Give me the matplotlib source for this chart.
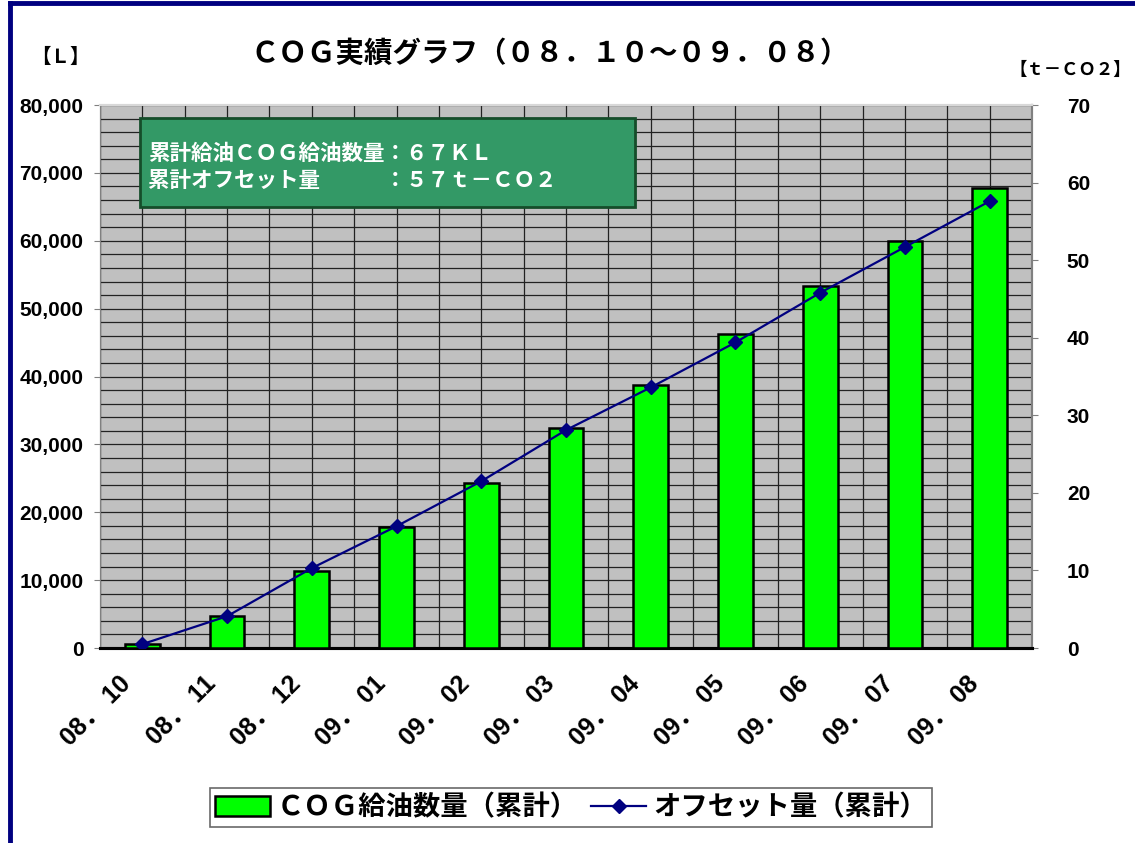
import numpy as np
import matplotlib.pyplot as plt
import matplotlib.transforms as mtrans
from matplotlib.patches import Rectangle
from matplotlib.lines import Line2D
from matplotlib.ticker import FuncFormatter

plt.rcParams['font.family'] = ['Noto Sans CJK JP', 'DejaVu Sans']

# データ
months = ['08． 10', '08． 11', '08． 12', '09． 01', '09． 02', '09． 03',
          '09． 04', '09． 05', '09． 06', '09． 07', '09． 08']
cog_litre = [600, 4700, 11300, 17900, 24300, 32400, 38700, 46200, 53300, 60000, 67800]
offset_t = [0.5, 4.1, 10.3, 15.7, 21.5, 28.1, 33.6, 39.4, 45.8, 51.7, 57.6]

lat = ['Liberation Sans', 'Noto Sans CJK JP']

fig = plt.figure(figsize=(11.35, 8.43), dpi=100)
ax = fig.add_axes([0.0881, 0.2313, 0.8212, 0.6441])
ax2 = ax.twinx()
ax.set_zorder(ax2.get_zorder() + 1)
ax.patch.set_visible(False)
ax2.patch.set_visible(True)
ax2.patch.set_facecolor('#C0C0C0')

x = np.arange(len(months))

# 棒グラフ（左軸）
bars = ax.bar(x, cog_litre, width=0.41, color='#00FF00', edgecolor='black',
              linewidth=1.8, zorder=3, label='ＣＯＧ給油数量（累計）')
ax.set_ylim(0, 80000)
ax.set_xlim(-0.5, len(months) - 0.5)
ax.set_yticks(np.arange(0, 80001, 10000))
ax.set_yticks(np.arange(0, 80001, 2000), minor=True)
ax.set_xticks(x)
ax.set_xticks(np.arange(-0.5, len(months), 0.5), minor=True)
ax.grid(which='both', color='#222222', linewidth=0.9, zorder=0)
ax.set_axisbelow(True)
ax.yaxis.set_major_formatter(FuncFormatter(lambda v, p: f'{int(v):,}'))
ax.tick_params(axis='y', which='major', length=4, color='#808080', pad=8)
ax.tick_params(axis='both', which='minor', length=0)
ax.tick_params(axis='x', which='major', length=0, pad=23)
for lab in ax.get_yticklabels():
    lab.set_family(lat)
    lab.set_fontsize(15)
    lab.set_fontweight('bold')
ax.set_xticklabels(months, rotation=45, ha='right', va='center',
                   rotation_mode='anchor', family=lat, fontsize=18,
                   fontweight='bold')
shift = mtrans.ScaledTranslation(-15 / 100, 0, fig.dpi_scale_trans)
for lab in ax.get_xticklabels():
    lab.set_transform(lab.get_transform() + shift)

# 折れ線（右軸）
ax_line = ax.twinx()
ax_line.set_zorder(ax.get_zorder() + 1)
ax_line.patch.set_visible(False)
ax_line.set_ylim(0, 70)
ax_line.axis('off')
ln, = ax_line.plot(x, offset_t, color='#000080', linewidth=1.6, marker='D',
                   markersize=7, label='オフセット量（累計）')

ax2.set_ylim(0, 70)
ax2.set_yticks(np.arange(0, 71, 10))
ax2.tick_params(axis='y', length=4, color='#808080', pad=21)
for lab in ax2.get_yticklabels():
    lab.set_family(lat)
    lab.set_fontsize(15)
    lab.set_fontweight('bold')

for a in (ax, ax2):
    a.spines['bottom'].set_color('black')
    a.spines['bottom'].set_linewidth(2.2)
    a.spines['left'].set_color('#808080')
    a.spines['right'].set_color('#808080')
    a.spines['right'].set_linewidth(1.5)
    a.spines['top'].set_color('#d8d8d8')
    a.spines['top'].set_linewidth(1.5)

# テキストボックス
ax.add_patch(Rectangle((0.043, 0.812), 0.531, 0.164, transform=ax.transAxes,
                       facecolor='#339966', edgecolor='#154d2a', linewidth=2,
                       zorder=5))
ax.text(0.052, 0.886, '累計給油ＣＯＧ給油数量：６７ＫＬ\n累計オフセット量　　　：５７ｔ－ＣＯ２',
        transform=ax.transAxes, color='white', fontsize=15.5, fontweight='bold',
        va='center', ha='left', linespacing=1.38, zorder=6)

# タイトル・軸ラベル
fig.text(0.484, 0.936, 'ＣＯＧ実績グラフ（０８．１０～０９．０８）', ha='center', va='center',
         fontsize=20.5, fontweight='bold')
fig.text(0.053, 0.932, '【Ｌ】', ha='center', va='center', fontsize=14, fontweight='bold')
fig.text(0.943, 0.917, '【ｔ－ＣＯ２】', ha='center', va='center', fontsize=12.5,
         fontweight='bold')

# 凡例
leg = fig.legend(handles=[bars, ln], loc='center', bbox_to_anchor=(0.503, 0.042),
                 ncol=2, prop={'weight': 'bold', 'size': 19.7},
                 frameon=True, fancybox=False, edgecolor='#444444',
                 handlelength=2.0, handletextpad=0.25, columnspacing=0.5,
                 borderpad=0.2, borderaxespad=0)
leg.get_frame().set_linewidth(1.2)

# 外枠
fig.add_artist(Line2D([0.0088, 1.0], [0.9964, 0.9964], color='#000080',
                      linewidth=3.5, transform=fig.transFigure))
fig.add_artist(Line2D([0.0088, 0.0088], [0.0, 0.9964], color='#000080',
                      linewidth=3.5, transform=fig.transFigure))

fig.savefig('out.png', dpi=100)
